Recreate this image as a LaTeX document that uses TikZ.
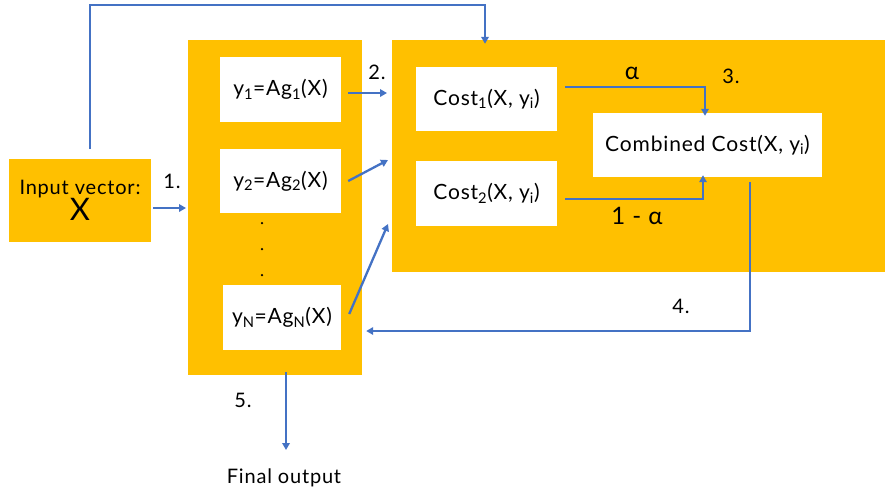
\documentclass[tikz,border=0pt]{standalone}
\usepackage{fontspec}
\setmainfont{Lato}[LetterSpace=4]
\usetikzlibrary{arrows.meta,calc}
\definecolor{boxorange}{HTML}{FFC000}
\definecolor{linkblue}{HTML}{4472C4}
\tikzset{
  panel/.style={fill=boxorange, draw=none, inner sep=0pt},
  card/.style={fill=white, draw=none, inner sep=0pt, font=\fontsize{21}{24}\selectfont, align=center},
  link/.style={draw=linkblue, line width=2.3pt, -{Triangle[length=7pt,width=7.5pt]}},
  tag/.style={font=\fontsize{20}{24}\selectfont, inner sep=0pt}
}
\newcommand{\sub}[1]{\textsubscript{#1}}
\begin{document}
\begin{tikzpicture}[x=1pt,y=-1pt]
\useasboundingbox (0,0) rectangle (885,496);

% input
\node[panel, minimum width=142pt, minimum height=83pt, align=center] (in) at (80,200.5)
  {\fontsize{20}{27}\selectfont Input vector:\\[0pt]\fontsize{31}{32}\selectfont X};

% generator panel
\node[panel, minimum width=174pt, minimum height=335pt] (gen) at (275,207.5) {};
\node[card, minimum width=121pt, minimum height=65pt] (y1) at (280.5,89.5) {y\sub{1}=Ag\sub{1}(X)};
\node[card, minimum width=121pt, minimum height=64pt] (y2) at (280.5,181) {y\sub{2}=Ag\sub{2}(X)};
\node[card, minimum width=118pt, minimum height=65pt] (yN) at (282,317.5) {y\sub{N}=Ag\sub{N}(X)};
\foreach \yy [count=\i] in {223,249,275}
  \node[circle, fill=black, inner sep=0pt, minimum size=2.5pt] (dot\i) at (262,\yy) {};

% cost panel
\node[panel, minimum width=493pt, minimum height=232pt] (cost) at (638.5,156) {};
\node[card, minimum width=141pt, minimum height=64pt] (c1) at (486.5,99) {Cost\sub{1}(X, y\sub{i})};
\node[card, minimum width=141pt, minimum height=65pt] (c2) at (486.5,193.5) {Cost\sub{2}(X, y\sub{i})};
\node[card, minimum width=229pt, minimum height=64pt] (cc) at (707.5,145) {Combined Cost(X, y\sub{i})};

% step labels
\node[tag] (l1) at (172,181) {1.};
\node[tag] (l2) at (377,72) {2.};
\node[tag] (l3) at (731,76) {3.};
\node[tag] (l4) at (681,306) {4.};
\node[tag] (l5) at (243,400) {5.};
\node[font=\fontsize{24}{26}\selectfont, inner sep=0pt] (la) at (632,73) {α};
\node[font=\fontsize{24}{26}\selectfont, inner sep=0pt] (lb) at (637,216) {1 - α};
\node[font=\fontsize{20}{24}\selectfont, inner sep=0pt] (out) at (284,478) {Final output};

% connectors
\coordinate (topL) at (90,5);
\coordinate (topR) at (485,5);
\draw[link] (90,149) -- (topL) -- (topR) -- ([yshift=-4pt]cost.north west -| topR);
\draw[link] (in.east |- 0,208) ++(2,0) -- (186,208);
\draw[link] ($(y1.east)+(7,3.5)$) -- (387,93);
\draw[link] ($(y2.east)+(7,0)$) -- (388,160);
\draw[link] ($(yN.east)+(8,-3.5)$) -- (388,224);
\coordinate (k1) at (705,87);
\coordinate (k2) at (703,199);
\draw[link] ($(c1.east)+(8,-12)$) -- (k1) -- ([yshift=-3pt]cc.north -| k1);
\draw[link] ($(c2.east)+(8,5.5)$) -- (k2) -- ([yshift=2pt]cc.south -| k2);
\coordinate (k3) at (750,331);
\draw[link] (750,182) -- (k3) -- ([xshift=4pt]gen.east |- k3);
\draw[link] ([yshift=3pt]gen.south -| 286,0) -- (286,450);
\end{tikzpicture}
\end{document}
